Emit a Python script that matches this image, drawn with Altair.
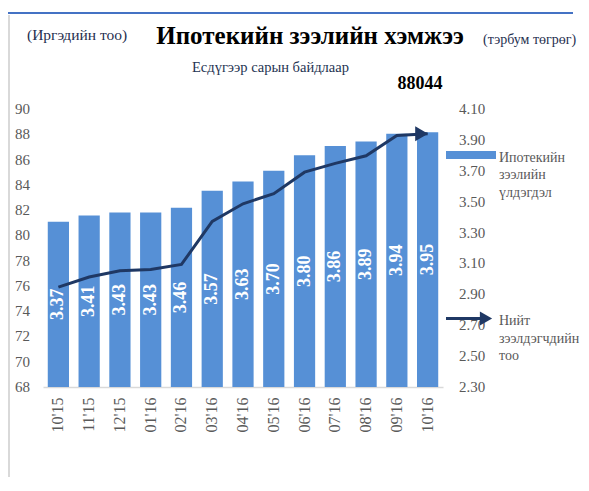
import altair as alt
import pandas as pd

months = ["10'15", "11'15", "12'15", "01'16", "02'16", "03'16", "04'16",
          "05'16", "06'16", "07'16", "08'16", "09'16", "10'16"]
balance = [3.37, 3.41, 3.43, 3.43, 3.46, 3.57, 3.63, 3.70, 3.80, 3.86, 3.89, 3.94, 3.95]
borrowers = [75.9, 76.7, 77.2, 77.3, 77.7, 81.1, 82.5, 83.3, 85.0, 85.7, 86.3, 87.9, 88.044]
right_ticks = [2.3, 2.5, 2.7, 2.9, 3.1, 3.3, 3.5, 3.7, 3.9, 4.1]
left_ticks = [68, 70, 72, 74, 76, 78, 80, 82, 84, 86, 88, 90]

title_main = "Ипотекийн зээлийн хэмжээ"
left_unit = "(Иргэдийн тоо)"
right_unit = "(тэрбум төгрөг)"
subtitle = "Есдүгээр сарын байдлаар"
last_total = "88044"
legend_bar = "Ипотекийн\nзээлийн\nүлдэгдэл"
legend_line = "Нийт\nзээлдэгчдийн\nтоо"

BAR = "#5690D6"
LINE = "#1F3864"
GRAY = "#595959"
SERIF = "Liberation Serif, Times New Roman, DejaVu Serif, serif"

df = pd.DataFrame({"month": months, "balance": balance, "borrowers": borrowers})
last_df = df.tail(1)
rt = pd.DataFrame({"v": right_ticks})
lt = pd.DataFrame({"v": left_ticks})

xenc = alt.X("month:N", sort=months, title=None,
             scale=alt.Scale(paddingInner=0.31, paddingOuter=0.155),
             axis=alt.Axis(labelAngle=-90, labelFont=SERIF, labelFontSize=16,
                           labelColor=GRAY, ticks=False, domainColor="#D9D9D9",
                           domainWidth=1.5, labelPadding=10, labelOverlap=False))

yright = alt.Scale(domain=[2.3, 4.1], zero=False, nice=False)

bars = alt.Chart(df).mark_bar(color=BAR).encode(
    x=xenc,
    y=alt.Y("balance:Q", scale=yright, axis=None),
    y2=alt.datum(2.3),
)
labels = alt.Chart(df).transform_calculate(mid="(2.3 + datum.balance) / 2").mark_text(
    angle=270, color="white", font=SERIF, fontSize=18, fontWeight="bold",
    align="center", baseline="middle"
).encode(
    x=alt.X("month:N", sort=months),
    y=alt.Y("mid:Q", scale=yright, axis=None),
    text=alt.Text("balance:Q", format=".2f"),
)
right_labels = alt.Chart(rt).mark_text(
    font=SERIF, fontSize=15, color=GRAY, align="left", baseline="middle"
).encode(
    x=alt.value(416),
    y=alt.Y("v:Q", scale=yright, axis=None),
    text=alt.Text("v:Q", format=".2f"),
)
bar_group = alt.layer(bars, labels, right_labels)

yleft = alt.Scale(domain=[68, 90], zero=False, nice=False)
line = alt.Chart(df).mark_line(color=LINE, strokeWidth=3).encode(
    x=alt.X("month:N", sort=months),
    y=alt.Y("borrowers:Q", scale=yleft, axis=None),
)
arrow = alt.Chart(last_df).mark_point(shape="triangle-right", filled=True, opacity=1,
                                      color=LINE, size=220, xOffset=-6).encode(
    x=alt.X("month:N", sort=months),
    y=alt.Y("borrowers:Q", scale=yleft, axis=None),
)
left_labels = alt.Chart(lt).mark_text(
    font=SERIF, fontSize=15, color=GRAY, align="right", baseline="middle"
).encode(
    x=alt.value(-13),
    y=alt.Y("v:Q", scale=yleft, axis=None),
    text=alt.Text("v:Q", format="d"),
)
line_group = alt.layer(line, arrow, left_labels)


def txt(s, x, y, size, color="black", weight="normal", align="left", lh=None):
    kw = dict(font=SERIF, fontSize=size, color=color, fontWeight=weight,
              align=align, baseline="alphabetic")
    if lh:
        kw.update(lineBreak="\n", lineHeight=lh)
    return alt.Chart(pd.DataFrame({"t": [s]})).mark_text(**kw).encode(
        text="t:N", x=alt.value(x), y=alt.value(y))


one = pd.DataFrame({"a": [0]})
frame_top = alt.Chart(one).mark_rule(color="#4472C4", strokeWidth=2).encode(
    x=alt.value(-35), x2=alt.value(530), y=alt.value(-96))
frame_left = alt.Chart(one).mark_rule(color="#D9D9D9", strokeWidth=2).encode(
    x=alt.value(-34), y=alt.value(-94), y2=alt.value(370))
swatch = alt.Chart(one).mark_rect(color=BAR).encode(
    x=alt.value(403), x2=alt.value(453), y=alt.value(42), y2=alt.value(50))
leg_rule = alt.Chart(one).mark_rule(color=LINE, strokeWidth=3).encode(
    x=alt.value(403), x2=alt.value(440), y=alt.value(209.5))
leg_arrow = alt.Chart(one).mark_point(shape="triangle-right", filled=True, opacity=1,
                                      color=LINE, size=200).encode(
    x=alt.value(443), y=alt.value(209.5))

annotations = [
    frame_top, frame_left,
    txt(title_main, 267, -65.5, 25, weight="bold", align="center"),
    txt(left_unit, -16, -69, 15.5, color="#1F2F4F"),
    txt(right_unit, 440, -65.5, 14, color="#1F2F4F"),
    txt(subtitle, 149, -37.5, 14.5, color="#243352"),
    txt(last_total, 377, -20, 18, weight="bold", align="center"),
    swatch, txt(legend_bar, 456, 52.5, 14, color=GRAY, lh=17.5),
    leg_rule, leg_arrow, txt(legend_line, 456, 216, 14, color=GRAY, lh=17.5),
]

chart = alt.layer(bar_group, line_group, *annotations).resolve_scale(
    y="independent"
).properties(
    width=400, height=278,
    autosize=alt.AutoSizeParams(type="none"),
    padding={"left": 35, "top": 101, "right": 138, "bottom": 90},
    background="white",
).configure_view(stroke=None)

chart.save("out.html", embed_options={"renderer": "svg", "actions": False})
